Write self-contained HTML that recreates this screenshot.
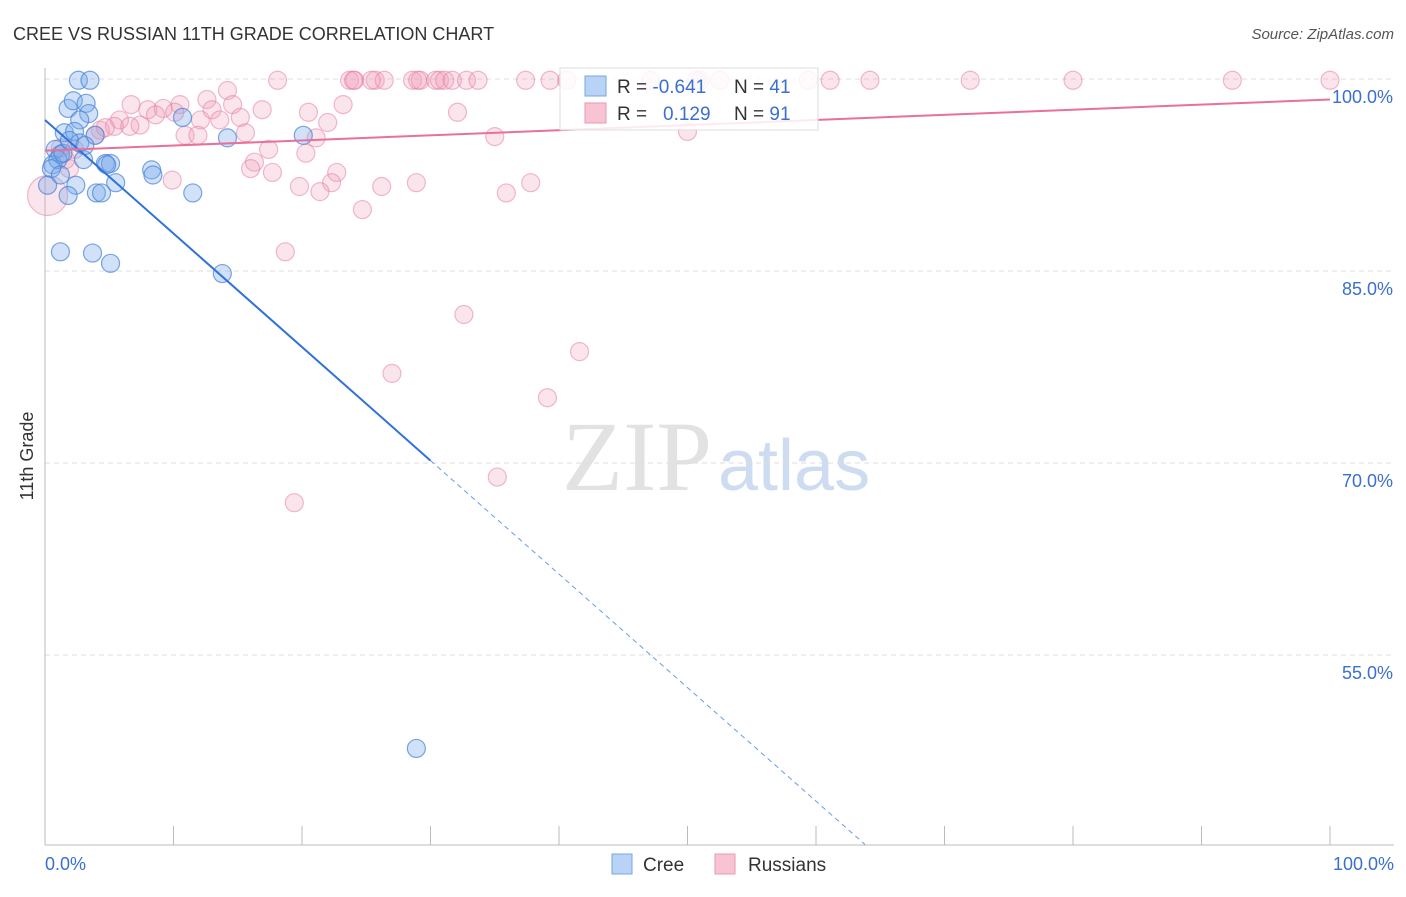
<!DOCTYPE html>
<html><head><meta charset="utf-8"><style>
body{margin:0;background:#fff;font-family:"Liberation Sans",sans-serif}
</style></head><body>
<svg id="chart" width="1406" height="892" xmlns="http://www.w3.org/2000/svg" font-family="Liberation Sans, sans-serif">
<text x="13" y="40" font-size="18" fill="#333">CREE VS RUSSIAN 11TH GRADE CORRELATION CHART</text>
<text x="1394" y="39" font-size="15" fill="#555" text-anchor="end" font-style="italic">Source: ZipAtlas.com</text>
<text transform="translate(33,456) rotate(-90)" font-size="18" fill="#333" text-anchor="middle">11th Grade</text>
<g><text x="712" y="490" font-size="100" fill="#e2e2e2" font-family="Liberation Serif, serif" text-anchor="end">ZIP</text><text x="718" y="490" font-size="72" fill="#cddcf0">atlas</text></g>
<g id="grid"></g><g id="axes"></g><g id="marks"></g><g id="lines"></g>
<g>
<rect x="560" y="68" width="258" height="62" fill="#fff" fill-opacity="0.85" stroke="#ddd"/>
<rect x="585" y="76" width="21" height="20" fill="#b8d3f5" stroke="#7aa7e0"/>
<rect x="585" y="103" width="21" height="20" fill="#f8c4d4" stroke="#e898b0"/>
<text x="617" y="93" font-size="19" fill="#333">R = <tspan fill="#3a6fd0">-0.641</tspan><tspan x="734">N = </tspan><tspan fill="#3a6fd0">41</tspan></text>
<text x="617" y="120" font-size="19" fill="#333">R = <tspan x="663" fill="#3a6fd0">0.129</tspan><tspan x="734">N = </tspan><tspan fill="#3a6fd0">91</tspan></text>
</g>
<g>
<rect x="612" y="854" width="20" height="20" fill="#b8d3f5" stroke="#7aa7e0"/>
<text x="643" y="871" font-size="19" fill="#333">Cree</text>
<rect x="715" y="854" width="20" height="20" fill="#f8c4d4" stroke="#e898b0"/>
<text x="748" y="871" font-size="19" fill="#333">Russians</text>
</g>
</svg>
<script>
const yTicks=[100,85,70,55];
const yTickLabels=["100.0%","85.0%","70.0%","55.0%"];
const xTicks=[0,10,20,30,40,50,60,70,80,90,100];
const creeX=[2.6,3.5,1.8,2.2,3.2,3.4,2.7,1.5,2.3,3.9,2.7,0.8,1.2,0.6,1.0,3.0,4.7,5.1,0.5,4.8,2.4,1.8,4.0,4.4,5.5,8.3,8.4,10.7,11.5,14.2,20.1,0.2,1.2,3.7,5.1,13.8,28.9,1.4,1.9,3.1,1.2];
const creeY=[99.9,99.9,97.7,98.3,98.1,97.3,96.8,95.8,95.9,95.6,95.0,94.5,94.1,93.3,93.7,93.7,93.4,93.4,93.0,93.3,91.7,90.9,91.1,91.1,91.9,92.9,92.5,97.0,91.1,95.4,95.6,91.7,86.5,86.4,85.6,84.8,47.7,94.2,95.2,94.8,92.5];
const rusX=[18.1,23.7,24.1,25.7,26.4,28.6,29.2,30.4,30.7,31.1,31.7,32.8,33.7,37.4,39.3,40.6,47.1,50.7,52.5,59.4,61.1,64.2,72.0,80.0,92.4,100,24.0,25.4,29.0,51.0,
6.7,8.0,9.2,10.5,12.6,14.2,14.6,16.9,20.5,23.2,32.1,5.8,7.4,8.6,10.1,12.1,13.0,15.2,4.3,5.4,6.6,10.9,11.9,15.6,22.0,21.1,35.0,50.0,3.9,2.3,1.9,1.6,17.4,16.3,16.0,17.7,20.3,22.7,22.3,19.8,21.4,26.2,28.9,35.9,37.8,9.9,24.7,18.7,32.6,41.6,27.0,39.1,35.2,19.4,0.2,13.6,4.7,1.2];
const rusY=[99.9,99.9,99.9,99.9,99.9,99.9,99.9,99.9,99.9,99.9,99.9,99.9,99.9,99.9,99.9,99.9,99.9,99.9,99.9,99.9,99.9,99.9,99.9,99.9,99.9,99.9,99.9,99.9,99.9,99.9,
98.0,97.6,97.7,98.0,98.4,99.1,98.0,97.6,97.4,98.0,97.4,96.8,96.4,97.2,97.4,96.8,97.6,97.0,96.0,96.3,96.3,95.6,95.6,95.8,96.6,95.4,95.5,95.9,95.6,94.5,93.0,93.7,94.5,93.5,93.0,92.7,94.2,92.7,91.9,91.6,91.2,91.6,91.9,91.1,91.9,92.1,89.8,86.5,81.6,78.7,77.0,75.1,68.9,66.9,90.9,96.8,96.2,94.6];
const rusR=rusX.map((v,i)=>i===84?20:9);
const creeLine=[96.8,-0.887];
const rusLine=[94.4,0.04];
const ns="http://www.w3.org/2000/svg";
const X=v=>45+v*12.85, Y=v=>79+(100-v)*12.8;
function mk(t,a,p){const e=document.createElementNS(ns,t);for(const k in a)e.setAttribute(k,a[k]);p.appendChild(e);return e;}
const grid=document.getElementById('grid'),axes=document.getElementById('axes'),marks=document.getElementById('marks'),lines=document.getElementById('lines');
yTicks.forEach((t,i)=>{
 const l=mk('line',{x1:45,x2:1394,y1:Y(t),y2:Y(t),stroke:'#ddd','stroke-dasharray':'5,4'},grid);
 
 
 const tx=mk('text',{x:1393,y:Y(t)+24,'font-size':18,fill:'#3a6fd0','text-anchor':'end'},axes);
 tx.textContent=yTickLabels[i];
 
 
});
const ax=mk('line',{x1:45,x2:1394,y1:845,y2:845,stroke:'#bbb'},axes);


const ay=mk('line',{x1:45,x2:45,y1:68,y2:845,stroke:'#bbb'},axes);


xTicks.forEach(t=>{const l=mk('line',{x1:X(t),x2:X(t),y1:826,y2:845,stroke:'#bbb'},axes);
 
 });
[[0,"0.0%",'start',45],[100,"100.0%",'end',1394]].forEach(d=>{const tx=mk('text',{x:d[3],y:870,'font-size':18,fill:'#3a6fd0','text-anchor':d[2]},axes);tx.textContent=d[1];
 
 });
rusX.forEach((v,i)=>{const c=mk('circle',{cx:X(v),cy:Y(rusY[i]),r:rusR[i],fill:'rgba(240,150,180,0.25)',stroke:'rgba(228,120,155,0.5)','stroke-width':1.2},marks);
 
 });
creeX.forEach((v,i)=>{const c=mk('circle',{cx:X(v),cy:Y(creeY[i]),r:9,fill:'rgba(120,170,235,0.35)',stroke:'rgba(70,130,215,0.7)','stroke-width':1.2},marks);
 
 });
const cy=x=>creeLine[0]+creeLine[1]*x;
const l1=mk('line',{x1:X(0),y1:Y(cy(0)),x2:X(30),y2:Y(cy(30)),stroke:'#2f72d8','stroke-width':2},lines);


const xEnd=(40.2-creeLine[0])/creeLine[1];
const l2=mk('line',{x1:X(30),y1:Y(cy(30)),x2:X(xEnd),y2:Y(cy(xEnd)),stroke:'#6a9be0','stroke-width':1,'stroke-dasharray':'5,4'},lines);


const ry=x=>rusLine[0]+rusLine[1]*x;
const l3=mk('line',{x1:X(0),y1:Y(ry(0)),x2:X(100),y2:Y(ry(100)),stroke:'#e8709a','stroke-width':2},lines);


</script>
</body></html>
